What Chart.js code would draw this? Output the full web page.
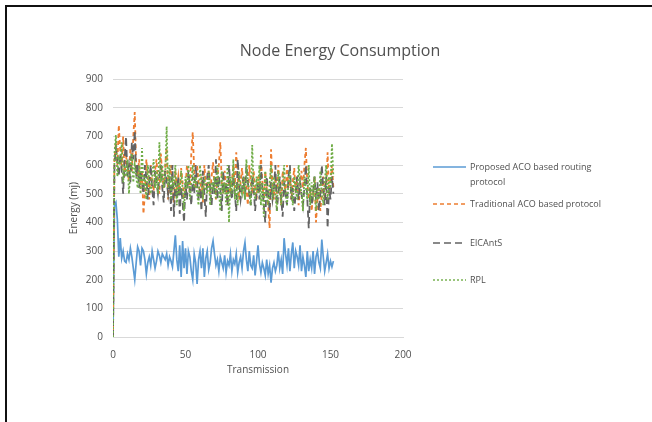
<!DOCTYPE html>
<html>
<head>
<meta charset="utf-8">
<script src="https://cdn.jsdelivr.net/npm/chart.js@4.4.1/dist/chart.umd.min.js"></script>
<style>
  html, body { margin: 0; padding: 0; background: #fff; }
  #wrap { position: absolute; left: 0; top: 0; width: 652px; height: 422px; }
  #frame { position: absolute; left: 5px; top: 5px; right: 0; bottom: 0;
           border-left: 2px solid #111; border-top: 2px solid #111; pointer-events: none; }
</style>
</head>
<body>
<div id="wrap">
  <canvas id="c" width="652" height="422"></canvas>
  <div id="frame"></div>
</div>
<script>
// series labels
const seriesNames = [
  ["Proposed ACO based routing", "protocol"],
  ["Traditional ACO based protocol"],
  ["ElCAntS"],
  ["RPL"]
];

// energy (mj) per transmission, index = transmission number
const proposedAco = [
  0, 460, 470, 410, 280, 345, 275, 300, 265, 260,
  290, 270, 310, 280, 240, 200, 260, 315, 300, 250,
  310, 300, 270, 220, 260, 280, 250, 300, 270, 240,
  265, 300, 285, 260, 290, 280, 270, 290, 250, 280,
  265, 245, 300, 355, 270, 230, 320, 210, 335, 240,
  310, 220, 300, 280, 230, 200, 290, 260, 185, 270,
  300, 240, 310, 210, 275, 300, 235, 260, 310, 335,
  290, 250, 270, 230, 280, 260, 240, 285, 225, 265,
  250, 290, 230, 270, 255, 290, 225, 260, 280, 240,
  300, 330, 270, 230, 300, 250, 240, 285, 215, 265,
  320, 255, 225, 260, 240, 215, 270, 220, 250, 190,
  240, 260, 230, 250, 300, 240, 270, 220, 345, 290,
  250, 310, 230, 290, 330, 240, 300, 280, 250, 320,
  230, 280, 250, 210, 300, 230, 270, 240, 300, 220,
  280, 300, 260, 240, 340, 280, 230, 260, 290, 240,
  265, 245, 265
];
const traditionalAco = [
  0, 620, 680, 600, 740, 650, 590, 700, 560, 630,
  600, 540, 660, 580, 700, 785, 600, 560, 620, 520,
  580, 430, 500, 620, 560, 480, 600, 540, 510, 580,
  620, 540, 500, 640, 560, 520, 600, 660, 480, 560,
  600, 530, 470, 580, 520, 560, 500, 590, 540, 480,
  520, 600, 560, 500, 640, 715, 580, 520, 600, 540,
  500, 560, 470, 600, 540, 520, 580, 500, 560, 610,
  520, 480, 560, 600, 680, 540, 500, 580, 520, 460,
  560, 500, 540, 600, 520, 645, 560, 480, 540, 590,
  500, 560, 520, 460, 600, 540, 500, 580, 520, 480,
  560, 500, 635, 540, 480, 580, 520, 460, 380, 655,
  540, 480, 560, 500, 600, 520, 460, 580, 540, 500,
  600, 520, 560, 480, 540, 590, 500, 560, 460, 520,
  580, 520, 600, 660, 540, 480, 520, 440, 500, 560,
  400, 480, 520, 440, 500, 560, 480, 520, 645, 500,
  540, 600, 520
];
const eicAnts = [
  0, 600, 660, 620, 560, 640, 580, 500, 620, 700,
  560, 600, 540, 680, 620, 720, 560, 600, 520, 580,
  540, 500, 600, 560, 480, 540, 600, 520, 460, 580,
  540, 500, 560, 600, 520, 470, 580, 540, 500, 560,
  440, 600, 420, 540, 480, 560, 430, 520, 470, 400,
  540, 480, 580, 520, 460, 560, 500, 600, 540, 480,
  520, 440, 580, 500, 420, 560, 600, 520, 460, 540,
  500, 620, 480, 560, 520, 440, 580, 500, 540, 460,
  600, 520, 480, 560, 500, 440, 620, 540, 480, 520,
  560, 480, 600, 540, 500, 460, 560, 520, 440, 500,
  540, 480, 600, 520, 460, 400, 560, 500, 440, 540,
  480, 520, 600, 440, 500, 560, 480, 420, 540, 500,
  460, 560, 600, 480, 520, 440, 500, 560, 480, 540,
  500, 460, 520, 600, 480, 380, 520, 460, 500, 560,
  480, 540, 440, 500, 600, 520, 460, 560, 380, 520,
  480, 560, 500
];
const rpl = [
  0, 640, 705, 560, 620, 600, 680, 540, 600, 560,
  620, 500, 580, 640, 540, 600, 560, 520, 600, 500,
  660, 520, 560, 480, 600, 540, 500, 560, 620, 520,
  580, 500, 680, 540, 600, 520, 560, 735, 520, 600,
  480, 560, 520, 600, 460, 540, 500, 580, 520, 440,
  560, 520, 600, 480, 540, 600, 520, 560, 500, 460,
  600, 540, 480, 560, 520, 500, 580, 460, 540, 520,
  560, 480, 600, 520, 440, 580, 500, 540, 460, 600,
  400, 560, 500, 620, 480, 540, 460, 580, 520, 500,
  560, 480, 620, 540, 500, 460, 670, 520, 480, 560,
  500, 600, 460, 540, 420, 580, 500, 460, 540, 600,
  480, 560, 500, 440, 580, 520, 460, 540, 600, 500,
  460, 540, 580, 500, 460, 560, 520, 480, 600, 540,
  500, 440, 560, 520, 480, 600, 460, 540, 500, 560,
  440, 520, 480, 580, 500, 460, 540, 600, 480, 560,
  520, 675, 560
];

const xTicks = [0, 50, 100, 150, 200];
const yTicks = [0, 100, 200, 300, 400, 500, 600, 700, 800, 900];

function pts(arr) {
  return arr.map((v, i) => ({ x: i, y: v }));
}

const FONT = "'Open Sans', 'Noto Sans', sans-serif";
const TXT = '#505050';

// legend drawn at the right, first label wraps on two lines like the original
const sideLegend = {
  id: 'sideLegend',
  afterDraw(chart) {
    const ctx = chart.ctx;
    const rowsY = [167, 204, 243, 280];
    ctx.save();
    ctx.font = '9px ' + FONT;
    ctx.textBaseline = 'middle';
    chart.data.datasets.forEach((ds, i) => {
      const y = rowsY[i];
      ctx.beginPath();
      ctx.strokeStyle = ds.borderColor;
      ctx.lineWidth = 1.4;
      ctx.setLineDash(ds.borderDash || []);
      ctx.moveTo(433, y);
      ctx.lineTo(466, y);
      ctx.stroke();
      ctx.fillStyle = TXT;
      seriesNames[i].forEach((line, k) => ctx.fillText(line, 470, y + k * 15.5));
    });
    ctx.restore();
  }
};

new Chart(document.getElementById('c'), {
  type: 'line',
  data: {
    datasets: [
      { label: seriesNames[0].join(' '), data: pts(proposedAco), borderColor: '#5B9BD5', borderWidth: 1.7, order: 3 },
      { label: seriesNames[1].join(' '), data: pts(traditionalAco), borderColor: '#ED7D31', borderWidth: 1.8, borderDash: [4, 3], order: 2 },
      { label: seriesNames[2].join(' '), data: pts(eicAnts), borderColor: '#636363', borderWidth: 1.8, borderDash: [7, 4], order: 1 },
      { label: seriesNames[3].join(' '), data: pts(rpl), borderColor: '#70AD47', borderWidth: 1.8, borderDash: [2, 2], order: 0 }
    ]
  },
  options: {
    responsive: false,
    animation: false,
    elements: { point: { radius: 0 }, line: { tension: 0, fill: false } },
    layout: { padding: { left: 68, right: 40, top: 0, bottom: 42 } },
    plugins: {
      legend: { display: false },
      tooltip: { enabled: false },
      title: {
        display: true,
        text: 'Node Energy Consumption',
        color: TXT,
        font: { family: FONT, size: 16, weight: 'normal' },
        padding: { top: 42, bottom: 18 }
      }
    },
    scales: {
      x: {
        type: 'linear', min: 0, max: 200,
        afterBuildTicks: s => { s.ticks = xTicks.map(v => ({ value: v })); },
        grid: { display: false },
        border: { color: '#d9d9d9' },
        ticks: { color: TXT, font: { family: FONT, size: 10 }, padding: 4 },
        title: { display: true, text: 'Transmission', color: TXT, font: { family: FONT, size: 10 }, padding: { top: 5 } },
        afterFit: s => { s.height = 43; }
      },
      y: {
        min: 0, max: 900,
        afterBuildTicks: s => { s.ticks = yTicks.map(v => ({ value: v })); },
        grid: { color: '#d9d9d9', drawTicks: false },
        border: { display: false },
        ticks: { color: TXT, font: { family: FONT, size: 10 }, padding: 10 },
        title: { display: true, text: 'Energy (mj)', color: TXT, font: { family: FONT, size: 10 }, padding: 0 },
        afterFit: s => { s.width = 45; }
      },
      spacer: {
        type: 'linear', position: 'right', display: true,
        grid: { display: false }, border: { display: false },
        ticks: { display: false },
        afterFit: s => { s.width = 209; }
      }
    }
  },
  plugins: [sideLegend]
});
</script>
</body>
</html>
